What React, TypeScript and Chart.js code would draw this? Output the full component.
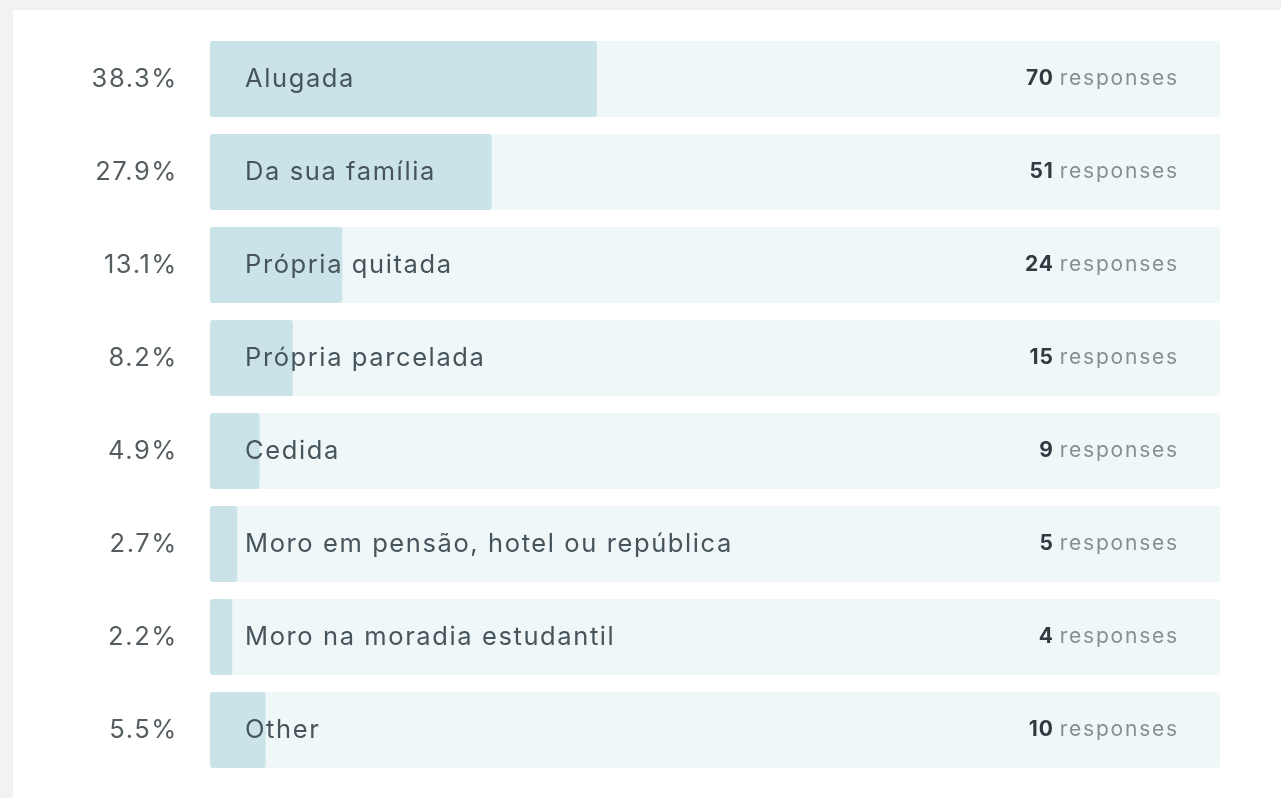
import React, { useEffect, useRef } from "react";
import { Chart, registerables } from "chart.js";

Chart.register(...registerables);

const categories = [
  "Alugada",
  "Da sua família",
  "Própria quitada",
  "Própria parcelada",
  "Cedida",
  "Moro em pensão, hotel ou república",
  "Moro na moradia estudantil",
  "Other",
];
const percents = [38.3, 27.9, 13.1, 8.2, 4.9, 2.7, 2.2, 5.5];
const responses = [70, 51, 24, 15, 9, 5, 4, 10];
const scaleMax = 100;
const trackValues = categories.map(() => scaleMax);
const responseWord = "responses";

const FONT = "Inter, 'Noto Sans', sans-serif";

const labelPlugin = {
  id: "rowLabels",
  afterDatasetsDraw(chart: any) {
    const { ctx, chartArea, scales } = chart;
    const yScale = scales.y;
    ctx.save();
    categories.forEach((cat, i) => {
      const y = yScale.getPixelForValue(i);
      ctx.textBaseline = "middle";
      // percent on the left
      ctx.font = `400 25.5px ${FONT}`;
      (ctx as any).letterSpacing = "1.6px";
      ctx.fillStyle = "#555d61";
      ctx.textAlign = "right";
      ctx.fillText(percents[i].toFixed(1) + "%", chartArea.left - 32, y);
      // category inside the bar
      ctx.font = `400 25.5px ${FONT}`;
      (ctx as any).letterSpacing = "1.6px";
      ctx.fillStyle = "#46555b";
      ctx.textAlign = "left";
      ctx.fillText(cat, chartArea.left + 35, y);
      // responses on the right
      const rx = chartArea.right - 41;
      ctx.font = `400 21px ${FONT}`;
      (ctx as any).letterSpacing = "1.8px";
      ctx.fillStyle = "#868f94";
      ctx.textAlign = "right";
      ctx.fillText(responseWord, rx, y);
      const w = ctx.measureText(responseWord).width;
      ctx.font = `700 21px ${FONT}`;
      (ctx as any).letterSpacing = "0.8px";
      ctx.fillStyle = "#2f3b41";
      ctx.fillText(String(responses[i]), rx - w - 6, y);
    });
    ctx.restore();
  },
};

export default function App() {
  const ref = useRef<HTMLCanvasElement>(null);
  useEffect(() => {
    if (!ref.current) return;
    const chart = new Chart(ref.current, {
      type: "bar",
      data: {
        labels: categories,
        datasets: [
          {
            data: percents,
            backgroundColor: "#c9e3e8",
            grouped: false,
            order: 0,
            borderRadius: 3,
            borderSkipped: false,
            categoryPercentage: 1,
            barPercentage: 0.817,
          } as any,
          {
            data: trackValues,
            backgroundColor: "#eff7f9",
            grouped: false,
            order: 1,
            borderRadius: 3,
            borderSkipped: false,
            categoryPercentage: 1,
            barPercentage: 0.817,
          } as any,
        ],
      },
      options: {
        indexAxis: "y",
        animation: false,
        responsive: false,
        maintainAspectRatio: false,
        layout: { padding: { left: 210, right: 61, top: 32.5, bottom: 21.5 } },
        scales: {
          x: { display: false, min: 0, max: scaleMax },
          y: { display: false },
        },
        plugins: {
          legend: { display: false },
          tooltip: { enabled: false },
        },
      },
      plugins: [labelPlugin],
    });
    return () => chart.destroy();
  }, []);
  return (
    <div style={{ position: "fixed", left: 0, top: 0, width: 1281, height: 798, background: "#f2f2f0" }}>
      <style>{"body{margin:0}"}</style>
      <div style={{ position: "absolute", left: 13, top: 10, right: 0, bottom: 0, background: "#ffffff" }} />
      <canvas ref={ref} width={1281} height={798} style={{ position: "absolute", left: 0, top: 0, width: 1281, height: 798 }} />
    </div>
  );
}
